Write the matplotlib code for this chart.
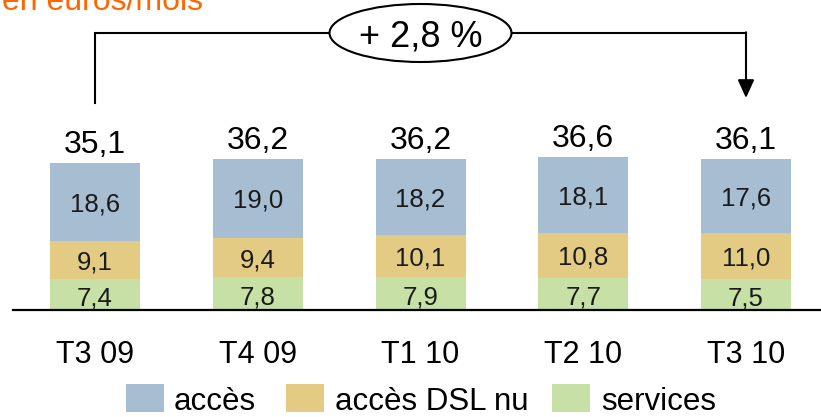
import matplotlib
matplotlib.use("Agg")
import matplotlib.pyplot as plt
from matplotlib.patches import Rectangle, Ellipse

plt.rcParams['font.family'] = ['Liberation Sans', 'DejaVu Sans']

categories = ["T3 09", "T4 09", "T1 10", "T2 10", "T3 10"]
services = [7.4, 7.8, 7.9, 7.7, 7.5]
dsl_nu = [9.1, 9.4, 10.1, 10.8, 11.0]
acces = [18.6, 19.0, 18.2, 18.1, 17.6]
totals = ["35,1", "36,2", "36,2", "36,6", "36,1"]
series_names = ["accès", "accès DSL nu", "services"]
growth_label = "+ 2,8 %"
title = "en euros/mois"

c_acces = "#A7BDD1"
c_dsl = "#E3CB83"
c_serv = "#C7E0A5"

W, H = 821, 417
fig = plt.figure(figsize=(W / 100, H / 100), dpi=100)
k = 4.18          # px per unit
base_px = 310     # y pixel (from top) of bar base
spacing = 162.75
x0 = 95
ax = fig.add_axes([13 / W, (H - base_px) / H, (W - 13) / W, base_px / H])
ax.set_xlim((13 - x0) / spacing, (W - x0) / spacing)
ax.set_ylim(0, base_px / k)
for s in ['top', 'right', 'left']:
    ax.spines[s].set_visible(False)
ax.spines['bottom'].set_linewidth(1.6)
ax.set_xticks([])
ax.set_yticks([])

x = list(range(len(categories)))
bw = 90 / spacing
ax.bar(x, services, width=bw, color=c_serv, zorder=2)
ax.bar(x, dsl_nu, width=bw, bottom=services, color=c_dsl, zorder=2)
bottom3 = [a + b for a, b in zip(services, dsl_nu)]
ax.bar(x, acces, width=bw, bottom=bottom3, color=c_acces, zorder=2)

def fmt(v):
    return f"{v:.1f}".replace(".", ",")

for i in x:
    ax.text(i, services[i] / 2 - 0.3, fmt(services[i]), ha='center', va='center_baseline',
            fontsize=18.5, color='#1a1a1a')
    ax.text(i, services[i] + dsl_nu[i] / 2, fmt(dsl_nu[i]), ha='center', va='center_baseline',
            fontsize=18.5, color='#1a1a1a')
    ax.text(i, bottom3[i] + acces[i] / 2, fmt(acces[i]), ha='center', va='center_baseline',
            fontsize=18.5, color='#1a1a1a')
    top = bottom3[i] + acces[i]
    ax.text(i, top + 10 / k, totals[i], ha='center', va='baseline', fontsize=23, color='black')
    ax.text(i, -53 / k, categories[i], ha='center', va='baseline', fontsize=22,
            color='black', clip_on=False)

# growth bracket
yb = (base_px - 33) / k
y_left = (base_px - 103) / k
y_tip = (base_px - 98) / k
ell_w = 182 / spacing
ell_h = 58 / k
ax.plot([0, 0, 2 - ell_w / 2], [y_left, yb, yb], color='black', lw=1.5, clip_on=False,
        solid_joinstyle='miter')
ax.plot([2 + ell_w / 2, 4.0], [yb, yb], color='black', lw=1.5, clip_on=False)
ax.annotate("", xy=(4.0, y_tip), xytext=(4.0, yb + 0.17),
            arrowprops=dict(arrowstyle='-|>,head_length=1.1,head_width=0.5',
                            color='black', lw=1.5, shrinkA=0, shrinkB=0),
            annotation_clip=False)
ax.add_patch(Ellipse((2, yb), ell_w, ell_h, facecolor='white', edgecolor='black',
                     lw=1.5, clip_on=False, zorder=3))
ax.text(2, yb, growth_label, ha='center', va='center_baseline', fontsize=26,
        color='black', zorder=4)

# title (cut at top)
fig.text(2 / W, (H - 10) / H, title, ha='left', va='baseline', fontsize=23, color='#FF6600')

# legend
cols = [c_acces, c_dsl, c_serv]
patch_x = [126, 286, 552]
text_x = [174, 335, 601]
for name, c, px, tx in zip(series_names, cols, patch_x, text_x):
    fig.add_artist(Rectangle((px / W, 5.5 / H), 38 / W, 27.5 / H, transform=fig.transFigure,
                             facecolor=c, edgecolor='none'))
    fig.text(tx / W, 6.5 / H, name, ha='left', va='baseline', fontsize=22.5, color='black')

fig.savefig("out.png", dpi=100)
